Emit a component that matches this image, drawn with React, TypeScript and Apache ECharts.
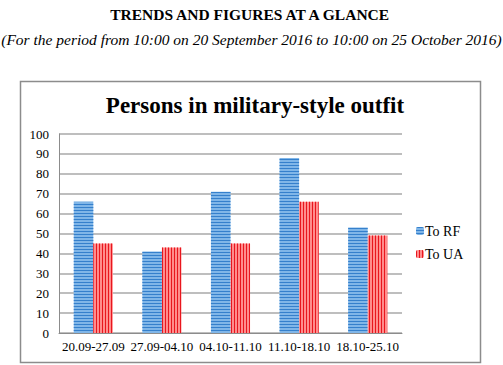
import React, { useEffect, useRef } from "react";
import * as echarts from "echarts";

const categories = ["20.09-27.09", "27.09-04.10", "04.10-11.10", "11.10-18.10", "18.10-25.10"];
const toRF = [66, 41, 71, 88, 53];
const toUA = [45, 43, 45, 66, 49];
const yTicks = { min: 0, max: 100, interval: 10 };

const FONT = "'Times New Roman', 'Liberation Serif', serif";

export default function App() {
  const ref = useRef<HTMLDivElement>(null);
  useEffect(() => {
    document.body.style.margin = "0";
    const chart = echarts.init(ref.current!, undefined, { renderer: "svg" });
    chart.setOption({
      animation: false,
      backgroundColor: "#ffffff",
      textStyle: { fontFamily: FONT },
      title: {
        text: "Persons in military-style outfit",
        left: 250,
        textAlign: "center",
        top: 89,
        textStyle: { fontFamily: FONT, fontSize: 23, fontWeight: "bold", color: "#000" },
      },
      graphic: [
        {
          type: "text",
          left: "center",
          top: 6,
          style: { text: "TRENDS AND FIGURES AT A GLANCE", font: `bold 15.5px ${FONT}`, fill: "#000" },
        },
        {
          type: "text",
          left: "center",
          top: 31,
          style: {
            text: "(For the period from 10:00 on 20 September 2016 to 10:00 on 25 October 2016)",
            font: `italic 15.5px ${FONT}`,
            fill: "#000",
          },
        },
        {
          type: "rect",
          shape: { x: 20.5, y: 81.5, width: 460, height: 281 },
          style: { fill: "none", stroke: "#8c8c8c", lineWidth: 1.5 },
          z: -1,
        },
      ],
      legend: {
        orient: "vertical",
        left: 411,
        top: 219,
        itemWidth: 8,
        itemHeight: 8,
        itemGap: 9,
        textStyle: { fontFamily: FONT, fontSize: 14, color: "#000", padding: [0, 0, 0, -4] },
        data: ["To RF", "To UA"],
      },
      grid: { left: 59, right: 101, top: 134, bottom: 32, containLabel: false },
      xAxis: {
        type: "category",
        data: categories,
        axisLine: { lineStyle: { color: "#8c8c8c", width: 1 } },
        axisTick: { show: false },
        axisLabel: { fontFamily: FONT, fontSize: 13, color: "#000", margin: 7, interval: 0 },
      },
      yAxis: {
        type: "value",
        min: yTicks.min,
        max: yTicks.max,
        interval: yTicks.interval,
        axisLine: { show: true, lineStyle: { color: "#8c8c8c", width: 1 } },
        axisTick: { show: false },
        axisLabel: { fontFamily: FONT, fontSize: 13, color: "#000", margin: 10 },
        splitLine: { lineStyle: { color: "#a8a8a8", width: 1.5 } },
      },
      series: [
        {
          name: "To RF",
          type: "bar",
          data: toRF,
          barGap: "0%",
          barCategoryGap: "43%",
          itemStyle: {
            color: "#80b6e8",
            decal: {
              symbol: "rect",
              symbolSize: 1,
              color: "#3580cc",
              dashArrayX: [1, 2],
              dashArrayY: [1, 0],
              rotation: Math.PI / 2,
            },
          },
        },
        {
          name: "To UA",
          type: "bar",
          data: toUA,
          itemStyle: {
            color: "#ff8c8c",
            decal: {
              symbol: "rect",
              symbolSize: 1,
              color: "#e8161e",
              dashArrayX: [1, 2],
              dashArrayY: [1, 0],
              rotation: 0,
            },
          },
        },
      ],
    });
    return () => chart.dispose();
  }, []);
  return <div ref={ref} style={{ position: "fixed", left: 0, top: 0, width: 503, height: 365 }} />;
}
